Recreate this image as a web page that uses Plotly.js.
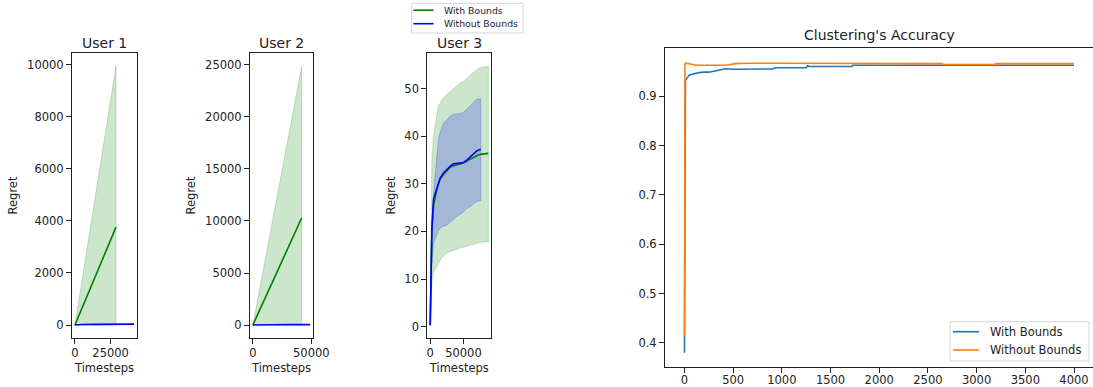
<!DOCTYPE html>
<html>
<head>
<meta charset="utf-8">
<script src="https://cdn.plot.ly/plotly-3.0.1.min.js"></script>
<style>html,body{margin:0;padding:0;background:#fff;}#chart{width:1093px;height:387px;}</style>
</head>
<body>
<div id="chart"></div>
<script>
// ---------------- data ----------------
// User 1
const u1Steps      = [0, 14000, 28760];
const u1MeanWith   = [0, 1830, 3760];
const u1UpperWith  = [0, 4850, 9950];
const u1LowerWith  = [0, 0, 0];
const u1StepsNo    = [0, 5000, 15000, 30000, 41400];
const u1MeanNo     = [0, 20, 28, 33, 36];

// User 2
const u2Steps      = [0, 21000, 41750];
const u2MeanWith   = [0, 5150, 10290];
const u2UpperWith  = [0, 12400, 24850];
const u2LowerWith  = [0, 0, 0];
const u2StepsNo    = [0, 5000, 15000, 30000, 49000];
const u2MeanNo     = [0, 22, 30, 36, 40];

// User 3
const u3StepsWith  = [0, 1000, 2500, 5000, 7500, 10000, 12500, 15000, 20000, 25000, 30000, 35000, 40000, 45000, 50000, 55000, 60000, 65000, 70000, 75000, 80000, 87500];
const u3MeanWith   = [0.3, 10, 20, 25.5, 27.5, 28.8, 30, 31, 32, 32.8, 33.5, 33.8, 34, 34.2, 34.4, 34.8, 35.2, 35.5, 35.9, 36.2, 36.3, 36.4];
const u3UpperWith  = [0.3, 20, 35, 40, 42.5, 44.5, 46.4, 47, 48.1, 48.8, 49.5, 50.2, 50.6, 51.2, 51.5, 52.3, 52.8, 53.4, 54, 54.4, 54.6, 54.7];
const u3LowerWith  = [0.3, 4, 9, 11.5, 12, 12.6, 13.2, 14, 15, 15.4, 15.8, 16, 16.3, 16.5, 16.7, 16.9, 17.1, 17.4, 17.6, 17.7, 17.8, 17.8];
const u3StepsNo    = [0, 1000, 2500, 5000, 7500, 10000, 12500, 15000, 20000, 25000, 30000, 35000, 40000, 45000, 50000, 55000, 60000, 65000, 70000, 76000];
const u3MeanNo     = [0.3, 10, 20.5, 26.8, 28, 28.9, 30.2, 31.2, 32.3, 33.1, 33.7, 34.2, 34.3, 34.4, 34.5, 35, 35.6, 36.3, 36.9, 37.3];
const u3UpperNo    = [0.3, 14, 22, 28, 32.4, 36, 39.4, 41, 42.8, 43.6, 44.2, 44.6, 44.7, 44.8, 45, 45.6, 46.4, 47.1, 47.8, 47.9];
const u3LowerNo    = [0.3, 6, 13, 17.5, 18.5, 19.5, 20.2, 20.7, 21.1, 21.3, 22, 22.7, 23.2, 23.6, 24.1, 24.8, 25.2, 25.8, 26.3, 26.5];

// Clustering accuracy
const accStepsWith = [0, 1, 2, 4, 6, 10, 20, 30, 44, 60, 80, 113, 150, 200, 250, 300, 352, 400, 421, 500, 589, 700, 800, 900, 934, 1100, 1250, 1265, 1280, 1500, 1720, 1730, 2000, 2500, 3000, 3500, 4000];
const accWith      = [0.38, 0.455, 0.88, 0.925, 0.93, 0.932, 0.935, 0.938, 0.942, 0.944, 0.945, 0.947, 0.948, 0.949, 0.949, 0.951, 0.9527, 0.954, 0.956, 0.955, 0.955, 0.955, 0.955, 0.9555, 0.958, 0.958, 0.958, 0.962, 0.9605, 0.9605, 0.9605, 0.963, 0.963, 0.963, 0.963, 0.963, 0.963];
const accStepsNo   = [0, 1, 2, 3, 5, 8, 15, 30, 50, 80, 113, 200, 421, 524, 660, 1000, 1500, 2000, 2643, 2650, 3190, 3200, 4000];
const accNo        = [0.413, 0.6, 0.85, 0.94, 0.967, 0.965, 0.968, 0.966, 0.966, 0.964, 0.963, 0.963, 0.963, 0.9663, 0.967, 0.967, 0.9665, 0.9663, 0.9663, 0.9645, 0.9645, 0.9663, 0.9663];

const seriesNames  = ['With Bounds', 'Without Bounds'];
const panelTitles  = ['User 1', 'User 2', 'User 3', "Clustering's Accuracy"];

const u1YTicks = [0, 2000, 4000, 6000, 8000, 10000];
const u2YTicks = [0, 5000, 10000, 15000, 20000, 25000];
const u3YTicks = [0, 10, 20, 30, 40, 50];
const u1XTicks = [0, 25000];
const u23XTicks = [0, 50000];
const accXTicks = [0, 500, 1000, 1500, 2000, 2500, 3000, 3500, 4000];
const accYTicks = [0.4, 0.5, 0.6, 0.7, 0.8, 0.9];

// ---------------- styles ----------------
const GREEN = '#008000', BLUE = '#0000ff', C0 = '#1f77b4', C1 = '#ff7f0e';
const GFILL = 'rgba(0,128,0,0.2)', BFILL = 'rgba(0,0,255,0.2)';
const FONT = 'DejaVu Sans, sans-serif';
const TXT = '#222';
const W = 1093, H = 387;

function band(x, lo, hi, xa, ya, fill) {
  return {
    x: x.concat(x.slice().reverse()),
    y: lo.concat(hi.slice().reverse()),
    xaxis: xa, yaxis: ya, type: 'scatter', mode: 'lines',
    fill: 'toself', fillcolor: fill,
    line: {color: fill, width: 1},
    hoverinfo: 'skip', showlegend: false
  };
}
function line(x, y, xa, ya, color, name) {
  return {x: x, y: y, xaxis: xa, yaxis: ya, type: 'scatter', mode: 'lines',
    line: {color: color, width: 1.6}, name: name, showlegend: false};
}

const traces = [
  band(u1Steps, u1LowerWith, u1UpperWith, 'x', 'y', GFILL),
  line(u1Steps, u1MeanWith, 'x', 'y', GREEN, seriesNames[0]),
  line(u1StepsNo, u1MeanNo, 'x', 'y', BLUE, seriesNames[1]),

  band(u2Steps, u2LowerWith, u2UpperWith, 'x2', 'y2', GFILL),
  line(u2Steps, u2MeanWith, 'x2', 'y2', GREEN, seriesNames[0]),
  line(u2StepsNo, u2MeanNo, 'x2', 'y2', BLUE, seriesNames[1]),

  band(u3StepsWith, u3LowerWith, u3UpperWith, 'x3', 'y3', GFILL),
  band(u3StepsNo, u3LowerNo, u3UpperNo, 'x3', 'y3', BFILL),
  line(u3StepsWith, u3MeanWith, 'x3', 'y3', GREEN, seriesNames[0]),
  line(u3StepsNo, u3MeanNo, 'x3', 'y3', BLUE, seriesNames[1]),

  line(accStepsWith, accWith, 'x4', 'y4', C0, seriesNames[0]),
  line(accStepsNo, accNo, 'x4', 'y4', C1, seriesNames[1])
];

function dx(a, b) { return [a / W, Math.min(1, b / W)]; }
function dy(top, bottom) { return [1 - bottom / H, 1 - top / H]; }
function px(v) { return v / W; }
function py(v) { return 1 - v / H; }

function ax(extra) {
  return Object.assign({
    showgrid: false, zeroline: false, showline: true, linecolor: TXT, linewidth: 1,
    mirror: true, ticks: 'outside', ticklen: 5, tickwidth: 1, tickcolor: TXT,
    tickfont: {family: FONT, size: 11.5, color: TXT}, fixedrange: true
  }, extra);
}
function ticks(vals) { return {tickvals: vals, ticktext: vals.map(v => String(v))}; }
function xt(text) { return {text: text, font: {family: FONT, size: 11.5, color: TXT}, standoff: 5}; }
function yt(text, so) { return {text: text, font: {family: FONT, size: 11.5, color: TXT}, standoff: so}; }

// ---- legends (drawn as paper shapes + text) ----
const legendBoxes = [
  {x0: 411.7, x1: 523, y0: 3.3, y1: 33, fs: 9.3, lx0: 413.5, lx1: 433.5, tx: 441.5, rows: [10.2, 23.7], colors: [GREEN, BLUE]},
  {x0: 950, x1: 1089, y0: 321.7, y1: 361, fs: 11.5, lx0: 953, lx1: 979, tx: 987.5, rows: [331.7, 350], colors: [C0, C1]}
];
const shapes = [], legendTexts = [];
legendBoxes.forEach(b => {
  shapes.push({type: 'rect', xref: 'paper', yref: 'paper', x0: px(b.x0), x1: px(b.x1), y0: py(b.y1), y1: py(b.y0),
    fillcolor: 'rgba(255,255,255,0.85)', line: {color: '#d6d6d6', width: 1}, layer: 'above'});
  b.rows.forEach((r, i) => {
    shapes.push({type: 'line', xref: 'paper', yref: 'paper', x0: px(b.lx0), x1: px(b.lx1), y0: py(r), y1: py(r),
      line: {color: b.colors[i], width: 1.6}, layer: 'above'});
    legendTexts.push({text: seriesNames[i], xref: 'paper', yref: 'paper', x: px(b.tx), y: py(r),
      xanchor: 'left', yanchor: 'middle', showarrow: false, font: {family: FONT, size: b.fs, color: TXT}});
  });
});

const titleAnn = [
  {text: panelTitles[0], x: 104.5 / W, y: 1 - 42.7 / H},
  {text: panelTitles[1], x: 281.5 / W, y: 1 - 42.7 / H},
  {text: panelTitles[2], x: 459.3 / W, y: 1 - 42.7 / H},
  {text: panelTitles[3], x: 879 / W, y: 1 - 35 / H}
].map(a => Object.assign(a, {xref: 'paper', yref: 'paper', xanchor: 'center', yanchor: 'middle', showarrow: false,
  font: {family: FONT, size: 14, color: TXT}}));

const regretDomY = dy(53, 338);
const layout = {
  width: W, height: H, margin: {l: 0, r: 0, t: 0, b: 0},
  paper_bgcolor: '#fff', plot_bgcolor: '#fff', showlegend: false,
  xaxis:  ax(Object.assign({domain: dx(72, 137), anchor: 'y', range: [-2070, 43470], ticklabelstandoff: -1, title: xt('Timesteps')}, ticks(u1XTicks))),
  yaxis:  ax(Object.assign({domain: regretDomY, anchor: 'x', range: [-497, 10447], title: yt('Regret', 7)}, ticks(u1YTicks))),
  xaxis2: ax(Object.assign({domain: dx(250, 313), anchor: 'y2', range: [-2450, 51450], ticklabelstandoff: -1, title: xt('Timesteps')}, ticks(u23XTicks))),
  yaxis2: ax(Object.assign({domain: regretDomY, anchor: 'x2', range: [-1245, 26145], title: yt('Regret', 7)}, ticks(u2YTicks))),
  xaxis3: ax(Object.assign({domain: dx(427.3, 491.3), anchor: 'y3', range: [-4375, 91875], ticklabelstandoff: -1, title: xt('Timesteps')}, ticks(u23XTicks))),
  yaxis3: ax(Object.assign({domain: regretDomY, anchor: 'x3', range: [-2.4, 57.5], title: yt('Regret', 6)}, ticks(u3YTicks))),
  xaxis4: ax(Object.assign({domain: dx(665, 1094), anchor: 'y4', range: [-200, 4195], ticklabelstandoff: -3}, ticks(accXTicks))),
  yaxis4: ax(Object.assign({domain: dy(48.3, 367.3), anchor: 'x4', mirror: false, range: [0.3506, 0.9974]}, ticks(accYTicks))),
  shapes: shapes,
  annotations: titleAnn.concat(legendTexts)
};

Plotly.newPlot('chart', traces, layout, {displayModeBar: false, staticPlot: true});
</script>
</body>
</html>
